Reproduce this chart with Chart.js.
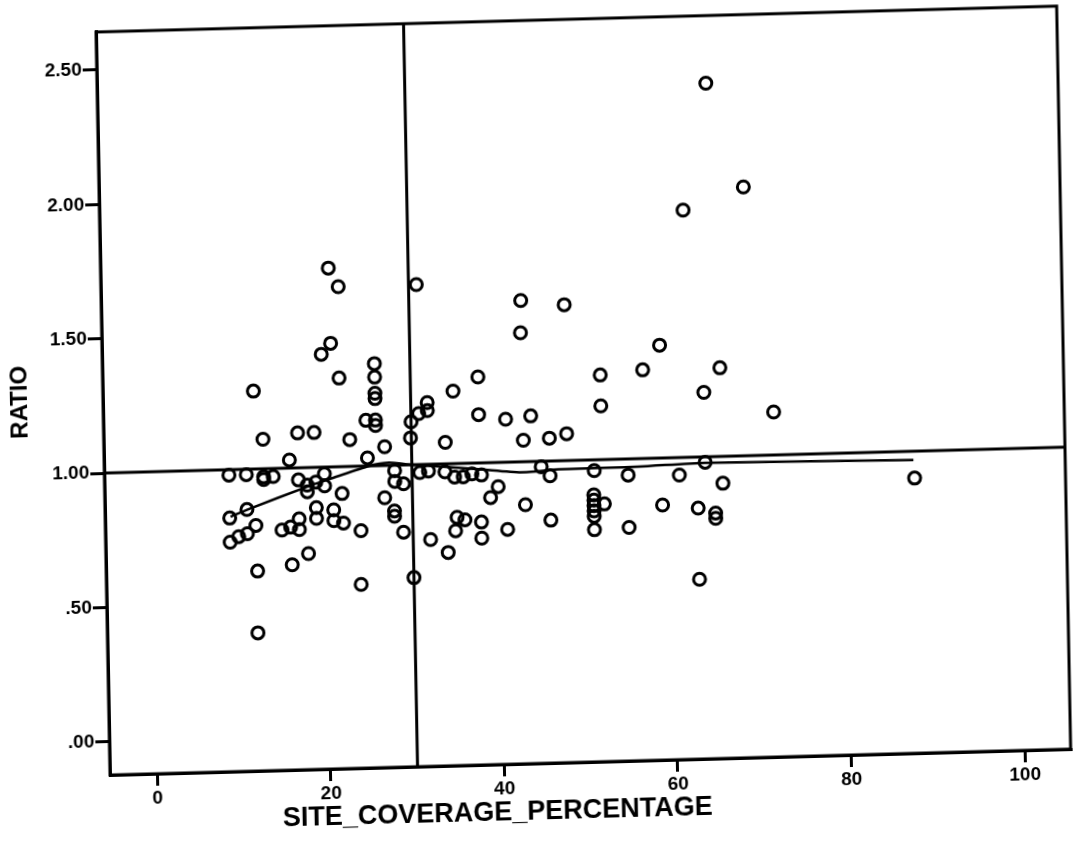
<!DOCTYPE html>
<html lang="en">
<head>
  <meta charset="UTF-8">
  <title>RATIO vs SITE_COVERAGE_PERCENTAGE</title>
  <script src="https://cdn.jsdelivr.net/npm/chart.js"></script>
  <style>
    html, body {
      margin: 0;
      padding: 0;
      background: #fff;
      overflow: hidden;
    }
    .wrap {
      position: relative;
      width: 1080px;
      height: 852px;
    }
    /* the scan is slightly skewed, so the whole chart is too */
    #chart {
      transform: matrix(0.99964, -0.02696, 0.01884, 0.99982, 0, 0);
      transform-origin: 110px 775px;
    }
  </style>
</head>
<body>
  <div class="wrap">
    <canvas id="chart" width="1080" height="852"></canvas>
  </div>
  <script>
    // observed cases
    const coverage = [
      20.8, 21.9, 30.9, 20.9, 19.8, 21.8, 11.9, 25.9, 25.9, 25.9,
      25.9, 24.8, 25.9, 25.9, 30.0, 29.9, 31.9, 31.9, 30.9, 34.9,
      37.8, 37.8, 12.9, 16.9, 18.8, 22.9, 26.9, 33.9, 15.9, 24.9,
      8.9, 10.9, 12.9, 14.0, 12.9, 16.9, 19.9, 18.9, 17.9, 19.9,
      17.9, 21.9, 8.9, 10.9, 11.9, 10.9, 9.9, 8.9, 14.9, 15.9,
      16.9, 16.9, 18.9, 18.9, 20.9, 20.9, 22.0, 24.0, 17.9, 16.0,
      12.0, 23.9, 11.9, 28.0, 28.0, 29.0, 26.8, 27.9, 27.9, 28.9,
      30.0, 30.9, 31.9, 33.8, 34.9, 35.9, 36.9, 38.0, 35.1, 36.0,
      34.9, 32.0, 34.0, 44.9, 45.9, 51.0, 54.9, 39.9, 39.0, 43.0,
      37.9, 37.9, 40.9, 45.9, 50.9, 50.9, 50.9, 50.9, 50.9, 52.1,
      50.9, 54.9, 42.9, 47.9, 42.8, 51.9, 51.9, 40.9, 43.8, 42.9,
      45.9, 47.9, 58.8, 56.8, 65.7, 63.8, 71.8, 60.8, 63.8, 65.8,
      87.9, 58.8, 62.9, 64.9, 64.9, 62.9, 64.7, 68.8, 61.8
    ];
    const ratio = [
      1.74, 1.67, 1.67, 1.46, 1.42, 1.33, 1.29, 1.38, 1.33, 1.27,
      1.25, 1.17, 1.17, 1.15, 1.16, 1.10, 1.23, 1.20, 1.19, 1.27,
      1.32, 1.18, 1.11, 1.13, 1.13, 1.10, 1.07, 1.08, 1.03, 1.03,
      0.98, 0.98, 0.97, 0.97, 0.96, 0.955, 0.975, 0.945, 0.935, 0.93,
      0.91, 0.90, 0.82, 0.85, 0.79, 0.76, 0.75, 0.73, 0.77, 0.78,
      0.81, 0.77, 0.85, 0.81, 0.84, 0.80, 0.79, 0.76, 0.68, 0.64,
      0.62, 0.56, 0.39, 0.98, 0.94, 0.93, 0.88, 0.83, 0.81, 0.75,
      0.58, 0.97, 0.975, 0.97, 0.95, 0.95, 0.96, 0.955, 0.80, 0.79,
      0.75, 0.72, 0.67, 0.98, 0.945, 0.96, 0.94, 0.91, 0.87, 0.84,
      0.78, 0.72, 0.75, 0.78, 0.87, 0.85, 0.83, 0.81, 0.79, 0.835,
      0.74, 0.745, 1.60, 1.58, 1.48, 1.315, 1.20, 1.16, 1.17, 1.08,
      1.085, 1.10, 1.42, 1.33, 1.33, 1.24, 1.16, 0.935, 0.98, 0.90,
      0.90, 0.825, 0.81, 0.79, 0.77, 0.545, 2.39, 2.00, 1.92
    ];

    // fit line
    const fitX = [9.0, 10.9, 17.9, 20.8, 25.1, 27.4, 30.0, 37.7, 42.6, 46.9, 56.0, 63.8, 87.8];
    const fitY = [0.825, 0.849, 0.929, 0.958, 1.0, 1.01, 1.0, 0.977, 0.961, 0.968, 0.97, 0.978, 0.967];

    // reference lines
    const refX = [30];
    const refY = [1.0];

    const xTicks = [0, 20, 40, 60, 80, 100];
    const xTickLabels = ['0', '20', '40', '60', '80', '100'];
    const yTicks = [0, 0.5, 1, 1.5, 2, 2.5];
    const yTickLabels = ['.00', '.50', '1.00', '1.50', '2.00', '2.50'];

    const xTitle = 'SITE_COVERAGE_PERCENTAGE';
    const yTitle = 'RATIO';

    Chart.defaults.font.family = "'Liberation Sans', Arial, sans-serif";
    Chart.defaults.color = '#000';

    const points = coverage.map((x, i) => ({ x: x, y: ratio[i] }));
    const fit = fitX.map((x, i) => ({ x: x, y: fitY[i] }));

    const framePlugin = {
      id: 'frame',
      beforeDatasetsDraw(chart) {
        const { ctx, chartArea: a, scales } = chart;
        ctx.save();
        ctx.strokeStyle = '#000';
        ctx.lineWidth = 3;
        refX.forEach(v => {
          const px = scales.x.getPixelForValue(v);
          ctx.beginPath();
          ctx.moveTo(px, a.top);
          ctx.lineTo(px, a.bottom);
          ctx.stroke();
        });
        refY.forEach(v => {
          const py = scales.y.getPixelForValue(v);
          ctx.beginPath();
          ctx.moveTo(a.left, py);
          ctx.lineTo(a.right, py);
          ctx.stroke();
        });
        ctx.strokeRect(a.left, a.top, a.width, a.height);
        ctx.restore();
      },
      afterDraw(chart) {
        const { ctx, chartArea: a } = chart;
        ctx.save();
        ctx.fillStyle = '#000';
        ctx.textAlign = 'center';
        ctx.textBaseline = 'middle';
        ctx.font = "bold 27px 'Liberation Sans', Arial, sans-serif";
        ctx.fillText(xTitle, a.left + 387, a.bottom + 49);
        ctx.translate(a.left - 83, a.bottom - 375);
        ctx.rotate(-Math.PI / 2);
        ctx.font = "bold 24px 'Liberation Sans', Arial, sans-serif";
        ctx.fillText(yTitle, 0, 0);
        ctx.restore();
      }
    };

    new Chart(document.getElementById('chart'), {
      type: 'scatter',
      data: {
        datasets: [
          {
            label: 'cases',
            data: points,
            pointStyle: 'circle',
            pointRadius: 6,
            pointBorderWidth: 3,
            borderColor: '#000',
            backgroundColor: 'rgba(0,0,0,0)'
          },
          {
            label: 'fit',
            type: 'line',
            data: fit,
            showLine: true,
            pointRadius: 0,
            borderWidth: 2.5,
            borderColor: '#000',
            tension: 0.25,
            fill: false
          }
        ]
      },
      plugins: [framePlugin],
      options: {
        responsive: false,
        animation: false,
        layout: { padding: { left: 0, top: 31.9, right: 5.65, bottom: 0 } },
        plugins: {
          legend: { display: false },
          tooltip: { enabled: false }
        },
        scales: {
          x: {
            type: 'linear',
            min: -5.455,
            max: 105.29,
            afterFit: s => { s.height = 77; },
            afterBuildTicks: s => { s.ticks = xTicks.map(v => ({ value: v })); },
            border: { display: true, color: '#000', width: 3 },
            grid: { drawOnChartArea: false, drawTicks: true, tickLength: 12, color: '#000', lineWidth: 3 },
            ticks: {
              padding: 1,
              font: { size: 19, weight: 'bold' },
              color: '#000',
              callback: (v) => xTickLabels[xTicks.indexOf(v)]
            }
          },
          y: {
            type: 'linear',
            min: -0.1239,
            max: 2.6416,
            afterFit: s => { s.width = 110; },
            afterBuildTicks: s => { s.ticks = yTicks.map(v => ({ value: v })); },
            border: { display: true, color: '#000', width: 3 },
            grid: { drawOnChartArea: false, drawTicks: true, tickLength: 14, color: '#000', lineWidth: 3 },
            ticks: {
              padding: 1,
              font: { size: 19, weight: 'bold' },
              color: '#000',
              callback: (v) => yTickLabels[yTicks.indexOf(v)]
            }
          }
        }
      }
    });
  </script>
</body>
</html>
